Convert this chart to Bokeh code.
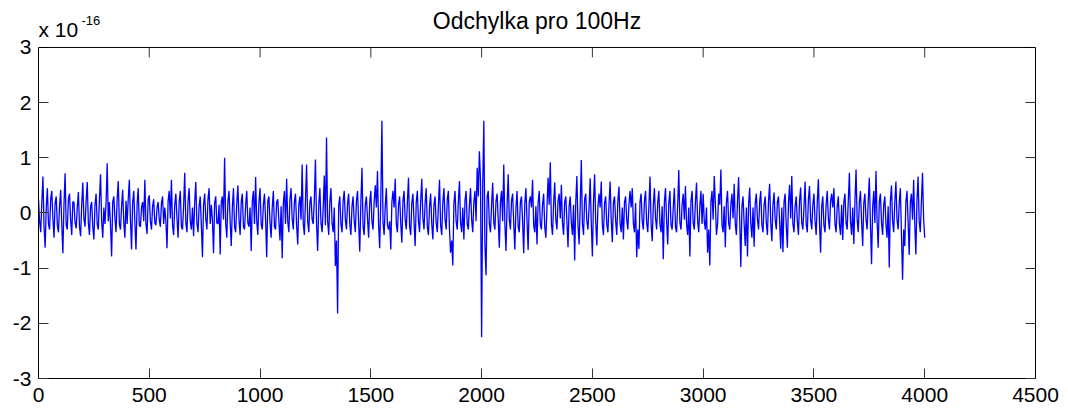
from bokeh.plotting import figure
from bokeh.models import Range1d, FixedTicker, LinearAxis, Label, Span
from bokeh.embed import file_html
from bokeh.resources import INLINE

title_text = "Odchylka pro 100Hz"
exp_base = "x 10"
exp_power = "-16"
x_step = 5
x_ticks = [0, 500, 1000, 1500, 2000, 2500, 3000, 3500, 4000, 4500]
y_ticks = [-3, -2, -1, 0, 1, 2, 3]
y_tick_labels = {-3: "-3", -2: "-2", -1: "-1", 0: "0", 1: "1", 2: "2", 3: "3"}

# deviation values (units of 1e-16) at samples 0, 10, ..., 990
dev_a = [0.25, -0.35, 0.66, -0.63, 0.45, -0.3, 0.4, -0.45, 0.3, -0.35,
         0.42, -0.73, 0.72, -0.3, 0.35, -0.4, 0.2, -0.28, 0.38, -0.42,
         0.55, -0.25, 0.56, -0.4, 0.2, -0.48, 0.35, -0.3, 0.7, -0.45,
         -0.2, 0.9, 0.2, -0.79, 0.3, -0.35, 0.58, -0.3, 0.42, -0.45,
         -0.2, 0.6, -0.66, 0.4, -0.66, 0.45, -0.25, 0.2, 0.6, -0.38,
         0.32, -0.3, 0.25, -0.22, 0.2, -0.25, 0.3, 0.1, -0.64, 0.4,
         0.6, -0.4, 0.35, -0.45, 0.4, -0.3, 0.73, -0.35, 0.45, -0.3,
         -0.42, 0.56, -0.35, 0.3, -0.8, 0.35, -0.3, 0.45, 0.15, -0.73,
         0.3, -0.2, -0.75, 0.3, 1.0, -0.45, 0.4, -0.6, 0.45, -0.35,
         0.5, -0.4, 0.35, -0.3, 0.4, -0.25, -0.69, 0.4, 0.65, -0.4]
# samples 5, 15, ..., 995
mid_a = [-0.15, 0.2, -0.25, 0.1, -0.2, 0.25, -0.1, 0.18, -0.22, 0.12,
         -0.2, 0.15, -0.22, 0.25, -0.12, 0.2, -0.18, 0.1, -0.25, 0.15,
         -0.1, 0.22, -0.18, 0.12, -0.25, 0.15, -0.2, 0.25, -0.15, 0.1,
         0.18, -0.15, -0.22, 0.2, -0.1, 0.25, -0.2, 0.12, -0.18, 0.22,
         0.25, -0.12, 0.2, -0.18, 0.15, -0.22, 0.1, -0.15, -0.2, 0.25,
         -0.15, 0.12, -0.18, 0.1, -0.12, 0.18, -0.2, -0.15, 0.22, -0.1,
         -0.22, 0.15, -0.1, 0.2, -0.25, 0.12, -0.18, 0.22, -0.15, 0.1,
         0.2, -0.18, 0.12, -0.22, 0.15, -0.1, 0.25, -0.2, -0.12, 0.18,
         -0.18, 0.15, 0.2, -0.12, -0.2, 0.22, -0.15, 0.1, -0.25, 0.18,
         -0.12, 0.2, -0.25, 0.15, -0.18, 0.1, 0.22, -0.2, -0.15, 0.2]
# samples 1000, 1010, ..., 1990
dev_b = [0.45, -0.3, 0.35, -0.8, 0.3, -0.45, 0.4, -0.3, 0.25, -0.5,
         -0.82, 0.4, 0.62, -0.35, 0.45, -0.3, 0.35, -0.57, 0.3, 0.88,
         -0.4, 0.88, -0.35, 0.3, -0.2, 0.97, -0.69, 0.45, -0.35, 0.68,
         1.37, -0.4, 0.45, -0.35, -0.96, -1.82, 0.3, -0.35, 0.4, -0.3,
         0.35, -0.4, 0.3, -0.35, 0.4, -0.7, 0.82, -0.4, 0.3, -0.45,
         0.4, -0.3, 0.5, 0.76, -0.64, 1.67, -0.4, 0.45, -0.3, -0.66,
         0.4, 0.62, -0.35, 0.3, -0.54, 0.4, -0.3, 0.64, -0.4, 0.35,
         -0.6, 0.4, -0.35, 0.62, -0.3, 0.45, -0.4, 0.35, -0.48, 0.3,
         -0.35, 0.6, -0.4, 0.45, -0.3, 0.4, -0.72, -0.95, 0.4, -0.3,
         0.58, -0.35, -0.48, 0.4, -0.3, 0.45, -0.35, 0.4, 0.82, 1.12]
mid_b = [-0.2, 0.15, -0.12, 0.22, -0.18, 0.1, -0.25, 0.2, -0.15, 0.12,
         0.18, -0.2, -0.15, 0.25, -0.1, 0.2, -0.22, 0.15, -0.12, -0.2,
         0.22, -0.15, 0.2, -0.12, 0.25, -0.2, 0.15, -0.18, 0.1, -0.22,
         -0.15, 0.2, -0.18, 0.1, -0.5, 0.15, -0.2, 0.22, -0.12, 0.18,
         -0.2, 0.12, -0.15, 0.22, -0.18, 0.2, -0.25, 0.15, -0.1, 0.2,
         -0.15, 0.2, 0.1, -0.2, 0.25, -0.18, 0.12, -0.22, -0.15, 0.2,
         0.1, -0.2, 0.15, -0.18, 0.22, -0.12, 0.2, -0.25, 0.18, -0.15,
         0.2, -0.15, 0.22, -0.1, 0.18, -0.25, 0.12, -0.2, 0.15, -0.18,
         0.15, -0.22, 0.2, -0.12, 0.25, -0.3, -0.5, 0.18, -0.15, 0.2,
         -0.18, 0.1, 0.22, -0.2, 0.15, -0.12, 0.2, -0.15, 0.3, 0.6]
# samples 2000, 2010, ..., 2990
dev_c = [-2.25, 1.67, -1.13, 0.4, -0.35, 0.55, -0.3, 0.35, -0.63, 0.4,
         0.88, -0.69, 0.7, -0.3, 0.35, -0.66, 0.4, -0.35, 0.3, -0.73,
         0.45, -0.67, 0.3, 0.6, -0.35, -0.57, 0.4, -0.3, 0.35, -0.45,
         0.64, 0.92, -0.4, 0.55, -0.3, 0.35, 0.51, -0.4, 0.3, -0.62,
         0.3, -0.4, -0.86, 0.67, -0.57, 0.96, -0.4, 0.35, -0.3, 0.63,
         -0.79, 0.7, -0.59, 0.35, 0.57, -0.4, 0.3, -0.35, 0.57, -0.53,
         0.3, -0.4, 0.48, -0.35, -0.48, 0.3, -0.3, 0.4, 0.45, -0.35,
         -0.8, -0.65, 0.35, -0.3, 0.4, -0.35, 0.66, -0.51, 0.45, -0.3,
         0.4, -0.35, -0.84, 0.45, -0.57, 0.4, -0.3, 0.45, -0.35, 0.78,
         -0.3, 0.35, 0.49, -0.4, -0.79, 0.4, -0.3, 0.55, -0.35, 0.4]
mid_c = [0.5, -0.6, 0.3, -0.2, 0.15, -0.18, 0.22, -0.12, 0.2, -0.15,
         -0.2, 0.15, -0.12, 0.22, -0.18, 0.1, -0.25, 0.2, -0.15, 0.18,
         -0.15, 0.2, 0.1, -0.22, 0.12, 0.18, -0.2, 0.15, -0.25, 0.1,
         0.15, -0.2, 0.18, -0.12, 0.22, -0.1, -0.18, 0.2, -0.15, 0.12,
         -0.18, 0.15, 0.2, -0.22, 0.12, -0.2, 0.25, -0.15, 0.1, -0.18,
         0.2, -0.15, 0.12, 0.1, -0.22, 0.18, -0.2, 0.15, -0.12, 0.2,
         -0.15, 0.22, -0.18, 0.1, 0.2, -0.12, 0.15, 0.1, -0.2, 0.18,
         -0.3, 0.2, -0.15, 0.22, -0.18, 0.12, -0.2, 0.15, -0.1, 0.2,
         -0.2, 0.12, 0.2, -0.15, 0.18, -0.22, 0.1, -0.25, 0.15, -0.18,
         0.15, -0.12, -0.2, 0.1, 0.22, -0.18, 0.2, -0.15, 0.12, -0.2]
# samples 3000, 3010, ..., 4000
dev_d = [0.35, -0.3, -0.72, -0.95, 0.4, 0.67, -0.4, 0.35, 0.79, -0.35,
         -0.62, 0.4, -0.3, 0.35, 0.53, -0.4, 0.65, -0.98, 0.3, -0.6,
         -0.79, 0.46, -0.45, -0.61, 0.35, -0.3, 0.4, -0.35, 0.3, -0.4,
         0.53, -0.51, 0.37, -0.3, 0.3, -0.65, -0.71, 0.35, -0.63, 0.51,
         0.67, -0.35, 0.3, -0.4, 0.46, -0.3, 0.57, -0.35, 0.49, -0.3,
         0.35, -0.4, 0.61, -0.72, 0.3, -0.35, 0.4, -0.3, 0.35, 0.45,
         -0.35, 0.3, -0.4, -0.49, 0.35, -0.3, 0.73, -0.4, -0.56, 0.79,
         -0.35, 0.4, -0.6, 0.35, -0.3, 0.64, -0.93, 0.4, 0.76, -0.63,
         0.35, -0.4, 0.3, -0.45, -0.99, 0.5, -0.35, 0.57, -0.3, 0.45,
         -1.21, -0.6, 0.4, -0.76, 0.35, 0.6, -0.75, 0.66, -0.35, 0.73,
         -0.45]
mid_d = [-0.15, 0.1, -0.3, 0.2, -0.12, 0.18, -0.2, 0.15, -0.22, 0.12,
         0.2, -0.18, 0.15, -0.1, -0.2, 0.22, -0.15, 0.12, -0.2, 0.1,
         0.15, -0.2, 0.1, 0.18, -0.12, 0.2, -0.22, 0.15, -0.18, 0.22,
         -0.18, 0.15, -0.12, 0.2, -0.15, 0.1, 0.2, -0.22, 0.18, -0.1,
         -0.2, 0.12, -0.15, 0.22, -0.18, 0.1, -0.2, 0.25, -0.12, 0.15,
         -0.15, 0.2, -0.18, 0.12, -0.22, 0.15, -0.1, 0.2, 0.1, -0.2,
         0.12, -0.2, 0.15, 0.2, -0.18, 0.22, -0.15, 0.1, 0.2, -0.12,
         0.2, -0.15, 0.18, -0.12, 0.22, -0.2, 0.1, -0.18, -0.15, 0.2,
         -0.18, 0.15, -0.2, 0.12, 0.22, -0.15, 0.2, -0.12, 0.18, -0.4,
         -0.3, 0.2, -0.15, 0.2, -0.12, -0.18, 0.22, -0.15, 0.2, -0.1]

main_vals = dev_a + dev_b + dev_c + dev_d
mid_vals = mid_a + mid_b + mid_c + mid_d
values = []
for i, v in enumerate(main_vals):
    values.append(v)
    if i < len(mid_vals):
        values.append(mid_vals[i])
xs = [i * x_step for i in range(len(values))]

FONT = "Liberation Sans"
Y_MIN, Y_MAX = -3, 3
X_MIN, X_MAX = 0, 4500
PX_PER_UNIT = 55.2
# frame extends to the top of the canvas; the box top line sits at Y_MAX
frame_top = Y_MAX + 47 / PX_PER_UNIT
TICK_PX = 10

p = figure(width=1068, height=412, output_backend="svg", toolbar_location=None,
           x_range=Range1d(X_MIN, X_MAX), y_range=Range1d(Y_MIN, frame_top),
           min_border_left=38, min_border_right=33, min_border_top=0, min_border_bottom=34)
p.background_fill_color = "white"
p.border_fill_color = "white"
p.outline_line_color = None
p.grid.visible = False

p.line(xs, values, line_color="#0000ff", line_width=1.3)

def style_axis(ax, ticks, show_labels):
    ax.ticker = FixedTicker(ticks=ticks)
    ax.minor_tick_line_color = None
    ax.major_tick_in = TICK_PX
    ax.major_tick_out = 0
    ax.major_tick_line_color = "#333333"
    ax.axis_line_color = "black"
    ax.axis_line_width = 1
    ax.major_label_text_font = FONT
    if show_labels:
        ax.major_label_text_font_size = "21px"
        ax.major_label_text_color = "black"
    else:
        ax.major_label_text_font_size = "0px"
        ax.major_label_text_color = None
        ax.major_label_standoff = 0

style_axis(p.xaxis[0], x_ticks, True)
style_axis(p.yaxis[0], y_ticks, True)
p.yaxis[0].bounds = (Y_MIN, Y_MAX)
p.yaxis[0].major_label_overrides = y_tick_labels
p.xaxis[0].major_label_standoff = 9
p.yaxis[0].major_label_standoff = 7

ax_right = LinearAxis(bounds=(Y_MIN, Y_MAX))
style_axis(ax_right, y_ticks, False)
p.add_layout(ax_right, "right")

# top edge of the axes box, with inward ticks at the x tick positions
p.add_layout(Span(location=Y_MAX, dimension="width", line_color="black", line_width=1))
inner_ticks = x_ticks[1:-1]
p.segment(x0=inner_ticks, y0=[Y_MAX] * len(inner_ticks),
          x1=inner_ticks, y1=[Y_MAX - TICK_PX / PX_PER_UNIT] * len(inner_ticks),
          line_color="#333333", line_width=1)

title_lab = Label(x=(X_MIN + X_MAX) / 2, y=Y_MAX, text=title_text, text_font=FONT,
                  text_font_size="23px", text_color="black",
                  text_baseline="alphabetic", text_align="center", y_offset=26)
lab1 = Label(x=X_MIN, y=Y_MAX, text=exp_base, text_font=FONT, text_font_size="21px",
             text_color="black", text_baseline="alphabetic", text_align="left",
             y_offset=18)
lab2 = Label(x=X_MIN, y=Y_MAX, text=exp_power, text_font=FONT, text_font_size="13px",
             text_color="black", text_baseline="alphabetic", text_align="left",
             x_offset=43, y_offset=27)
p.add_layout(title_lab)
p.add_layout(lab1)
p.add_layout(lab2)

open("out.html", "w").write(file_html(p, INLINE))
